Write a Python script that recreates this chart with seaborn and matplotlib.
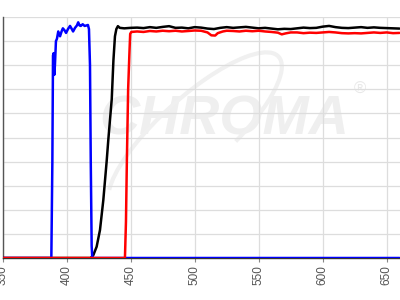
import matplotlib
matplotlib.use("Agg")
import matplotlib.pyplot as plt
from matplotlib.patches import Arc
from matplotlib.transforms import IdentityTransform
import seaborn as sns
import pandas as pd

# ---- data ----
blue_nm = [350, 388, 388.8, 389.3, 389.8, 390.3, 390.8, 391.6, 392.4, 393.4, 394.8, 396, 397,
           398.3, 399.5, 401, 402.6, 404, 405, 406.5, 408, 409, 410, 411, 412.5, 414, 415.5,
           416.6, 417.4, 418.2, 418.8, 419.5, 420, 660]
blue_t = [0, 0, 40, 84, 85, 76, 80, 90, 91, 94, 92, 94, 95.3,
          94.5, 93.4, 95, 96.3, 95, 94, 95.5, 96.5, 97.8, 96.5, 96.3, 97, 96.3, 96.5,
          96.7, 95, 80, 40, 5, 0, 0]

black_nm = [350, 418.7, 420.8, 423.4, 426, 428.6, 431.2, 432.5, 435.2, 436.5, 437.7, 438.8, 440,
            441.5, 445, 450, 455, 460, 465, 470, 475, 480, 485, 490, 495, 500, 505, 510, 515,
            520, 525, 530, 535, 540, 545, 550, 555, 560, 565, 570, 575, 580, 585, 590, 595,
            600, 605, 610, 615, 620, 625, 630, 635, 640, 645, 650, 655, 660]
black_t = [0, 0, 1.2, 4.7, 11.6, 24, 40, 49, 66, 82, 92, 95, 96.2,
           95.5, 95.3, 95.5, 95.6, 95.4, 95.8, 95.5, 95.9, 96.2, 95.5, 95.6, 95.3, 95.8, 95.6, 95.2, 95.0,
           95.5, 95.8, 95.5, 95.7, 95.9, 95.6, 95.3, 95.5, 95.2, 94.9, 95.1, 95.0, 95.3, 95.6, 95.4, 95.5,
           96.0, 96.3, 95.8, 95.5, 95.4, 95.6, 95.8, 95.5, 95.7, 95.5, 95.4, 95.3, 95.2]

red_nm = [350, 445.5, 446.3, 447, 448, 449, 449.6, 450.5, 455, 460, 465, 470, 475, 480, 485, 490,
          495, 500, 505, 510, 513, 516, 518, 522, 525, 530, 535, 540, 545, 550, 555, 560, 565,
          568, 571, 575, 580, 585, 590, 595, 600, 605, 610, 615, 620, 625, 630, 635, 640, 645,
          650, 655, 660]
red_t = [0, 0, 15, 40, 70, 85, 93, 93.8, 94.0, 93.8, 94.2, 94.0, 94.3, 94.1, 94.3, 94.0,
         94.2, 94.4, 94.3, 93.6, 92.4, 92.3, 93.3, 94.0, 94.3, 94.2, 94.0, 94.3, 94.1, 94.3, 94.0, 93.8, 93.5,
         92.8, 93.2, 93.6, 93.6, 93.3, 93.5, 93.4, 93.6, 93.8, 93.6, 93.3, 93.2, 93.3, 93.2, 93.4, 93.6, 93.4,
         93.6, 93.3, 93.4]

x_ticks = [350, 400, 450, 500, 550, 600, 650]

sns.set_theme(style="white")
plt.rcParams['font.family'] = ['Liberation Sans', 'DejaVu Sans']

fig = plt.figure(figsize=(4, 3), dpi=100)
ax = fig.add_axes([0.00675, 0.14, 0.99325, 0.8033])

# watermark (logo decoration)
ax.text(523, 57, "CHROMA", fontsize=40, fontweight="bold", fontstyle="italic",
        color="#efefef", ha="center", va="center", zorder=0)
ax.text(629, 70, "®", fontsize=12, color="#e8e8e8", ha="center", va="center", zorder=0)
swoosh = Arc((195, 168), 225, 70, angle=42, theta1=-55, theta2=172,
             transform=IdentityTransform(), color="#f0f0f0", lw=3, zorder=0)
ax.add_patch(swoosh)

black_df = pd.DataFrame({"nm": black_nm, "T": black_t})
blue_df = pd.DataFrame({"nm": blue_nm, "T": blue_t})
red_df = pd.DataFrame({"nm": red_nm, "T": red_t})

sns.lineplot(data=black_df, x="nm", y="T", color="black", lw=1.8, estimator=None, sort=False, ax=ax, zorder=3)
sns.lineplot(data=blue_df, x="nm", y="T", color="#0000ff", lw=1.8, estimator=None, sort=False, ax=ax, zorder=4)
sns.lineplot(data=red_df, x="nm", y="T", color="#ff0000", lw=1.8, estimator=None, sort=False, ax=ax, zorder=5)

ax.set_xlim(350, 660.4)
ax.set_ylim(0, 100)
ax.set_xticks(x_ticks)
ax.set_xticklabels([str(t) for t in x_ticks], rotation=90, fontsize=8.5, color="#555555")
ax.set_yticks(range(0, 101, 10))
ax.set_yticklabels([])
ax.grid(True, color="#dddddd", lw=0.9)
ax.set_axisbelow(True)
ax.tick_params(axis="x", bottom=True, length=3, width=0.8, color="#888888", pad=2)
ax.tick_params(axis="y", left=False)
ax.set_xlabel("")
ax.set_ylabel("")
for s in ["top", "right"]:
    ax.spines[s].set_visible(False)
ax.spines["left"].set_color("#555555")
ax.spines["left"].set_linewidth(1.0)
ax.spines["bottom"].set_color("#333333")
ax.spines["bottom"].set_linewidth(1.0)

fig.savefig("out.png", dpi=100)
